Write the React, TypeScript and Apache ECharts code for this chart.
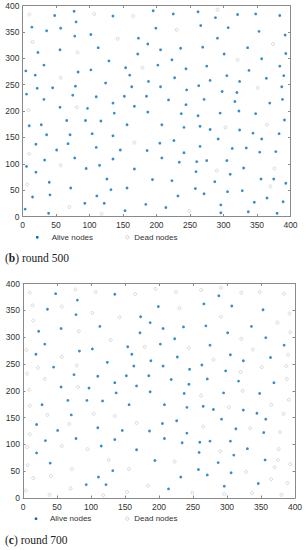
import React, { useEffect, useRef } from "react";
import * as echarts from "echarts";

// Node positions (same deployment in both panels)
const nodeX = [
  10, 48, 77, 107, 135, 165, 80, 14, 36, 57, 15, 78, 102, 142, 173, 187, 23, 56, 82, 113,
  172, 129, 32, 5, 83, 102, 154, 179, 19, 57, 160, 124, 188, 79, 22, 45, 163, 6, 75, 110,
  152, 185, 32, 135, 56, 81, 167,
  195, 225, 262, 291, 321, 348, 384, 288, 199, 230, 266, 307, 353, 392, 291, 374, 206, 236, 269, 301,
  336, 393, 223, 321, 357, 202, 244, 275, 338, 384, 227, 305, 364, 390, 280, 324, 206, 263, 351, 387,
  245, 298, 320, 218, 271, 317, 369, 388, 244,
  9, 97, 137, 187, 10, 28, 66, 94, 117, 156, 36, 71, 104, 135, 20, 68, 110, 146, 167, 186,
  10, 51, 78, 135, 33, 6, 57, 95, 115, 167, 20, 126, 40, 7, 72, 132, 156, 15, 41, 111,
  93, 122, 70, 184, 4, 39, 118, 153,
  237, 262, 295, 323, 348, 391, 208, 241, 265, 280, 303, 324, 344, 365, 383, 205, 226, 292, 357, 265,
  313, 334, 241, 354, 378, 208, 234, 260, 275, 305, 330, 259, 290, 310, 376, 194, 223, 287, 356, 375,
  393, 370, 258, 306, 328, 232, 271, 365, 296, 346, 389, 214, 249, 296, 337, 380,
];
const nodeY = [
  383, 381, 389, 384, 380, 380, 369, 359, 352, 357, 331, 342, 345, 337, 338, 327, 311, 316, 311, 320,
  308, 295, 287, 276, 274, 278, 282, 282, 268, 263, 268, 253, 256, 247, 243, 244, 246, 232, 230, 227,
  228, 228, 222, 215, 207, 207, 209,
  390, 384, 388, 392, 383, 384, 381, 377, 357, 354, 362, 358, 351, 344, 338, 327, 316, 319, 321, 308,
  320, 309, 297, 297, 299, 287, 280, 285, 277, 285, 263, 267, 262, 267, 258, 256, 246, 248, 244, 246,
  240, 237, 235, 221, 222, 218, 215, 222, 212,
  202, 205, 196, 198, 172, 174, 182, 182, 181, 174, 155, 155, 157, 153, 137, 138, 131, 126, 140, 125,
  119, 126, 111, 109, 107, 95, 97, 91, 97, 90, 84, 71, 65, 61, 54, 51, 54, 37, 41, 39,
  25, 25, 18, 23, 14, 6, 5, 11,
  195, 191, 196, 200, 195, 183, 174, 169, 171, 165, 169, 164, 158, 174, 157, 139, 144, 147, 147, 133,
  129, 130, 121, 122, 123, 111, 103, 104, 106, 106, 92, 85, 87, 80, 91, 70, 68, 66, 71, 71,
  63, 57, 53, 47, 49, 39, 43, 35, 22, 27, 28, 17, 10, 7, 9, 6,
];
// Round at which each node is found dead (0 = still alive at round 700)
const deathRound = [
  500, 0, 700, 500, 0, 500, 0, 700, 0, 700, 500, 0, 700, 500, 0, 0, 0, 0, 500, 0,
  0, 700, 0, 700, 0, 0, 0, 500, 0, 500, 0, 0, 0, 700, 700, 0, 0, 700, 0, 0,
  0, 0, 700, 0, 0, 500, 0,
  700, 700, 700, 500, 700, 700, 700, 0, 0, 500, 0, 0, 0, 700, 700, 500, 0, 0, 0, 0,
  0, 700, 0, 500, 0, 0, 700, 0, 700, 0, 0, 0, 0, 700, 700, 0, 0, 0, 500, 700,
  0, 0, 700, 0, 0, 0, 0, 700, 0,
  500, 0, 0, 0, 700, 0, 0, 0, 0, 0, 700, 0, 700, 700, 0, 700, 0, 0, 500, 0,
  500, 0, 0, 0, 0, 700, 500, 700, 0, 0, 0, 700, 0, 500, 700, 0, 700, 700, 700, 0,
  0, 0, 500, 700, 700, 700, 500, 700,
  0, 700, 0, 700, 0, 700, 0, 0, 0, 0, 500, 0, 0, 500, 700, 0, 0, 0, 0, 700,
  0, 700, 0, 0, 700, 0, 0, 0, 0, 0, 0, 0, 500, 0, 500, 0, 700, 0, 0, 700,
  700, 500, 0, 0, 700, 0, 0, 700, 0, 0, 700, 0, 500, 700, 700, 700,
];

const panelRounds = [500, 700];
const panelLetters = ["b", "c"];
const legendNames = ["Alive nodes", "Dead nodes"];

const BLUE = "#0072BD";
const GRAY = "#c9c9c9";
const AXIS = "#8a8a8a";
const LABEL = "#333333";
const SANS = "Liberation Sans, Arial, sans-serif";
const SERIF = "Liberation Serif, Times New Roman, serif";

const grids = [
  { left: 22.5, top: 5.5, width: 268, height: 211 },
  { left: 23, top: 283.5, width: 272, height: 214.5 },
];
const legendLayout = [
  { y: 237.3, dot: 37.3, aliveText: 51.7, circ: 127.3, deadText: 134.3, caption: 257.5 },
  { y: 518.7, dot: 36, aliveText: 50, circ: 127.3, deadText: 134.3, caption: 539.5 },
];

function buildOption() {
  const xAxis: any[] = [];
  const yAxis: any[] = [];
  const series: any[] = [];
  const graphic: any[] = [];

  const axisBase = (gi: number, showLabel: boolean) => ({
    gridIndex: gi,
    type: "value",
    min: 0,
    max: 400,
    interval: 50,
    axisLine: { show: true, onZero: false, lineStyle: { color: AXIS, width: 1 } },
    axisTick: { show: true, inside: true, length: 2.5, lineStyle: { color: AXIS, width: 1 } },
    axisLabel: {
      show: showLabel,
      fontSize: 8.5,
      color: LABEL,
      fontFamily: SANS,
      margin: 4,
    },
    splitLine: { show: false },
  });

  panelRounds.forEach((round, i) => {
    xAxis.push({ ...axisBase(i, true), position: "bottom" });
    xAxis.push({ ...axisBase(i, false), position: "top" });
    const yl: any = { ...axisBase(i, true), position: "left" };
    yl.axisLabel = { ...yl.axisLabel, margin: 3 };
    yAxis.push(yl);
    yAxis.push({ ...axisBase(i, false), position: "right" });

    const alive: number[][] = [];
    const dead: number[][] = [];
    nodeX.forEach((x, k) => {
      const d = deathRound[k];
      if (d !== 0 && d <= round) dead.push([x, nodeY[k]]);
      else alive.push([x, nodeY[k]]);
    });

    series.push({
      name: legendNames[1],
      type: "scatter",
      xAxisIndex: 2 * i,
      yAxisIndex: 2 * i,
      symbol: "circle",
      symbolSize: 3,
      itemStyle: { color: "#ffffff", borderColor: GRAY, borderWidth: 0.9 },
      data: dead,
      silent: true,
    });
    series.push({
      name: legendNames[0],
      type: "scatter",
      xAxisIndex: 2 * i,
      yAxisIndex: 2 * i,
      symbol: "circle",
      symbolSize: 2.8,
      itemStyle: { color: BLUE },
      data: alive,
      silent: true,
    });

    const L = legendLayout[i];
    graphic.push(
      { type: "circle", shape: { cx: L.dot, cy: L.y, r: 1.4 }, style: { fill: BLUE } },
      {
        type: "text",
        x: L.aliveText,
        y: L.y,
        style: {
          text: legendNames[0],
          fontSize: 8,
          fontFamily: SANS,
          fill: LABEL,
          verticalAlign: "middle",
        },
      },
      {
        type: "circle",
        shape: { cx: L.circ, cy: L.y, r: 1.6 },
        style: { fill: "#ffffff", stroke: GRAY, lineWidth: 0.9 },
      },
      {
        type: "text",
        x: L.deadText,
        y: L.y,
        style: {
          text: legendNames[1],
          fontSize: 8,
          fontFamily: SANS,
          fill: LABEL,
          verticalAlign: "middle",
        },
      },
      {
        type: "text",
        x: 5,
        y: L.caption,
        style: {
          text: `{p|(}{b|${panelLetters[i]}}{p|) round ${round}}`,
          verticalAlign: "middle",
          rich: {
            p: { fontSize: 11.5, fontFamily: SERIF, fill: "#222", color: "#222" },
            b: { fontSize: 11.5, fontFamily: SERIF, fontWeight: "bold", fill: "#222", color: "#222" },
          },
        },
      }
    );
  });

  return {
    animation: false,
    backgroundColor: "#ffffff",
    grid: grids.map((g) => ({ ...g, containLabel: false })),
    xAxis,
    yAxis,
    series,
    graphic,
  };
}

export default function App() {
  const ref = useRef<HTMLDivElement>(null);
  useEffect(() => {
    if (!ref.current) return;
    const chart = echarts.init(ref.current, undefined, { renderer: "svg" });
    chart.setOption(buildOption() as any);
    return () => chart.dispose();
  }, []);
  return (
    <div
      ref={ref}
      style={{ position: "absolute", left: 0, top: 0, width: 308, height: 550, background: "#fff" }}
    />
  );
}
